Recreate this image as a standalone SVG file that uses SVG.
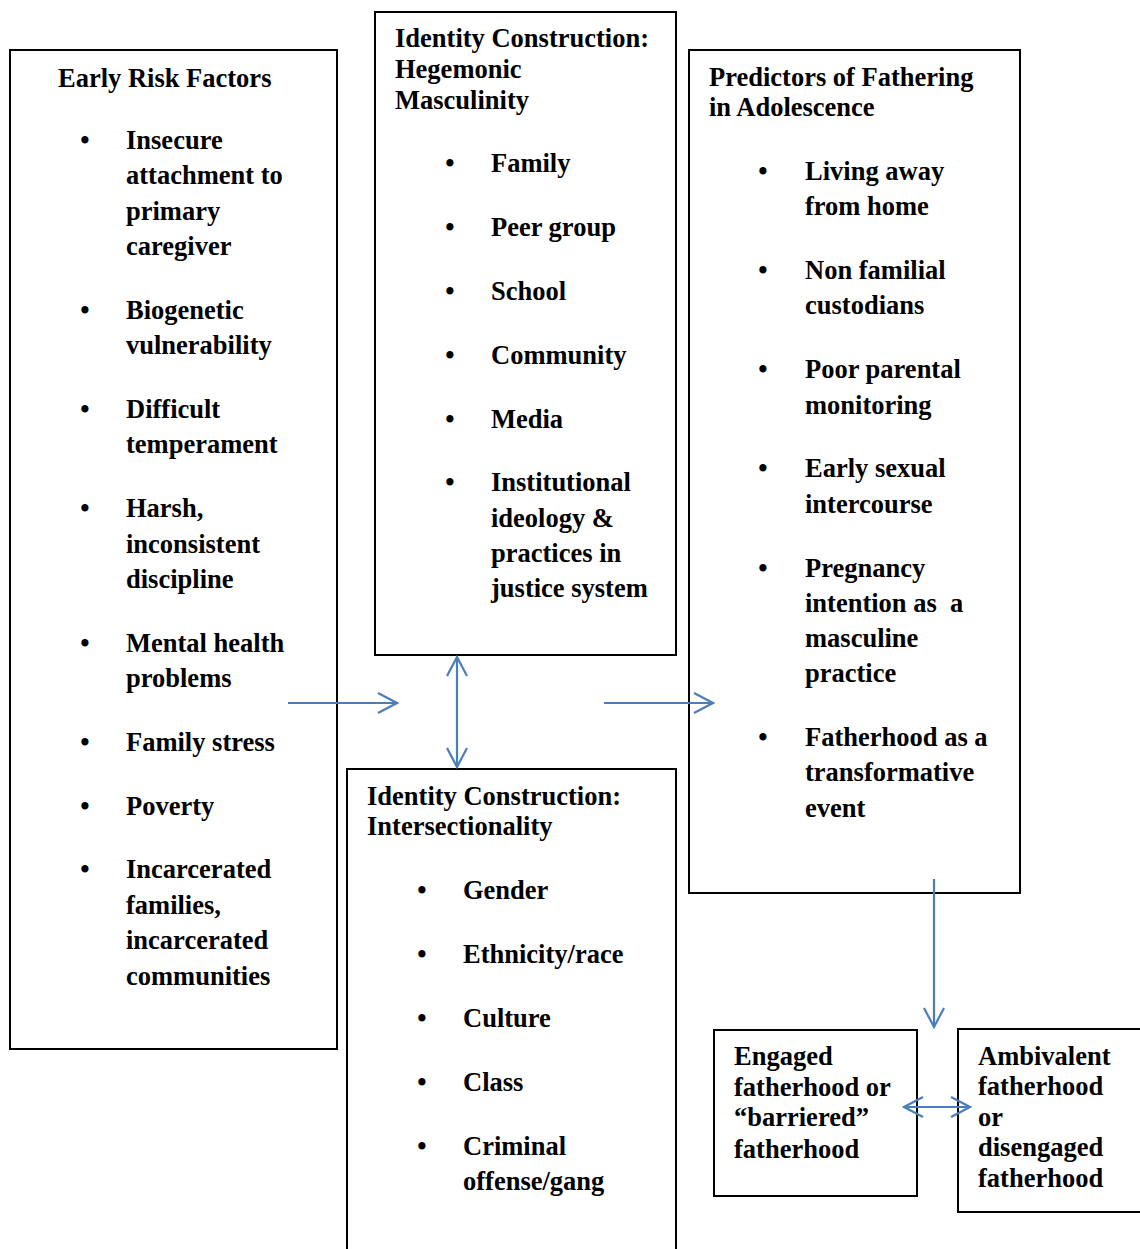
<svg xmlns="http://www.w3.org/2000/svg" width="1140" height="1249" viewBox="0 0 1140 1249">
<style>
.box{fill:#fff;stroke:#000;stroke-width:2}
text{font-family:"Liberation Serif","Times New Roman",serif;font-weight:bold;font-size:26.5px;fill:#000;white-space:pre}
.b{text-anchor:middle}
.c{stroke:#4a7ebb;stroke-width:2.2;fill:none}
</style>
<defs>
<marker id="ah2" viewBox="0 0 22 22" refX="20" refY="11" markerWidth="22" markerHeight="22" markerUnits="userSpaceOnUse" orient="auto-start-reverse">
<path d="M1,1 L20,11 L1,21" fill="none" stroke="#4a7ebb" stroke-width="2.2"/>
</marker>
</defs>
<rect width="1140" height="1249" fill="#fff"/>

<g id="early-risk">
<rect class="box" x="10" y="50" width="327" height="999"/>
<g transform="translate(0,1)">
<text x="58" y="86">Early Risk Factors</text>
<text class="b" x="85" y="148">•</text>
<text x="126" y="148">Insecure</text>
<text x="126" y="183">attachment to</text>
<text x="126" y="219">primary</text>
<text x="126" y="254">caregiver</text>
<text class="b" x="85" y="318">•</text>
<text x="126" y="318">Biogenetic</text>
<text x="126" y="353">vulnerability</text>
<text class="b" x="85" y="417">•</text>
<text x="126" y="417">Difficult</text>
<text x="126" y="452">temperament</text>
<text class="b" x="85" y="516">•</text>
<text x="126" y="516">Harsh,</text>
<text x="126" y="552">inconsistent</text>
<text x="126" y="587">discipline</text>
<text class="b" x="85" y="651">•</text>
<text x="126" y="651">Mental health</text>
<text x="126" y="686">problems</text>
<text class="b" x="85" y="750">•</text>
<text x="126" y="750">Family stress</text>
<text class="b" x="85" y="814">•</text>
<text x="126" y="814">Poverty</text>
<text class="b" x="85" y="877">•</text>
<text x="126" y="877">Incarcerated</text>
<text x="126" y="913">families,</text>
<text x="126" y="948">incarcerated</text>
<text x="126" y="984">communities</text>
</g>
</g>

<g id="hegemonic">
<rect class="box" x="375" y="12" width="301" height="643"/>
<g transform="translate(0,1)">
<text x="395" y="46">Identity Construction:</text>
<text x="395" y="77">Hegemonic</text>
<text x="395" y="108">Masculinity</text>
<text class="b" x="450" y="171">•</text>
<text x="491" y="171">Family</text>
<text class="b" x="450" y="235">•</text>
<text x="491" y="235">Peer group</text>
<text class="b" x="450" y="299">•</text>
<text x="491" y="299">School</text>
<text class="b" x="450" y="363">•</text>
<text x="491" y="363">Community</text>
<text class="b" x="450" y="427">•</text>
<text x="491" y="427">Media</text>
<text class="b" x="450" y="490">•</text>
<text x="491" y="490">Institutional</text>
<text x="491" y="526">ideology &amp;</text>
<text x="491" y="561">practices in</text>
<text x="491" y="596">justice system</text>
</g>
</g>

<g id="intersectionality">
<rect class="box" x="347" y="769" width="329" height="490"/>
<g transform="translate(0,1)">
<text x="367" y="804">Identity Construction:</text>
<text x="367" y="834">Intersectionality</text>
<text class="b" x="422" y="898">•</text>
<text x="463" y="898">Gender</text>
<text class="b" x="422" y="962">•</text>
<text x="463" y="962">Ethnicity/race</text>
<text class="b" x="422" y="1026">•</text>
<text x="463" y="1026">Culture</text>
<text class="b" x="422" y="1090">•</text>
<text x="463" y="1090">Class</text>
<text class="b" x="422" y="1154">•</text>
<text x="463" y="1154">Criminal</text>
<text x="463" y="1189">offense/gang</text>
</g>
</g>

<g id="predictors">
<rect class="box" x="689" y="50" width="331" height="843"/>
<g transform="translate(0,1)">
<text x="709" y="85">Predictors of Fathering</text>
<text x="709" y="115">in Adolescence</text>
<text class="b" x="763" y="179">•</text>
<text x="805" y="179">Living away</text>
<text x="805" y="214">from home</text>
<text class="b" x="763" y="278">•</text>
<text x="805" y="278">Non familial</text>
<text x="805" y="313">custodians</text>
<text class="b" x="763" y="377">•</text>
<text x="805" y="377">Poor parental</text>
<text x="805" y="413">monitoring</text>
<text class="b" x="763" y="476">•</text>
<text x="805" y="476">Early sexual</text>
<text x="805" y="512">intercourse</text>
<text class="b" x="763" y="576">•</text>
<text x="805" y="576">Pregnancy</text>
<text x="805" y="611">intention as  a</text>
<text x="805" y="646">masculine</text>
<text x="805" y="681">practice</text>
<text class="b" x="763" y="745">•</text>
<text x="805" y="745">Fatherhood as a</text>
<text x="805" y="780">transformative</text>
<text x="805" y="816">event</text>
</g>
</g>

<g id="engaged">
<rect class="box" x="714" y="1030" width="203" height="166"/>
<g transform="translate(0,1)">
<text x="734" y="1064">Engaged</text>
<text x="734" y="1095">fatherhood or</text>
<text x="734" y="1125">“barriered”</text>
<text x="734" y="1157">fatherhood</text>
</g>
</g>

<g id="ambivalent">
<rect class="box" x="958" y="1029" width="185" height="183"/>
<g transform="translate(0,1)">
<text x="978" y="1064">Ambivalent</text>
<text x="978" y="1094">fatherhood</text>
<text x="978" y="1125">or</text>
<text x="978" y="1155">disengaged</text>
<text x="978" y="1186">fatherhood</text>
</g>
</g>

<g id="connectors">
<line class="c" x1="288" y1="703" x2="397" y2="703" marker-end="url(#ah2)"/>
<line class="c" x1="457" y1="657" x2="457" y2="767" marker-start="url(#ah2)" marker-end="url(#ah2)"/>
<line class="c" x1="604" y1="703" x2="713" y2="703" marker-end="url(#ah2)"/>
<line class="c" x1="934" y1="879" x2="934" y2="1027" marker-end="url(#ah2)"/>
<line class="c" x1="904" y1="1107" x2="970" y2="1107" marker-start="url(#ah2)" marker-end="url(#ah2)"/>
</g>
</svg>
